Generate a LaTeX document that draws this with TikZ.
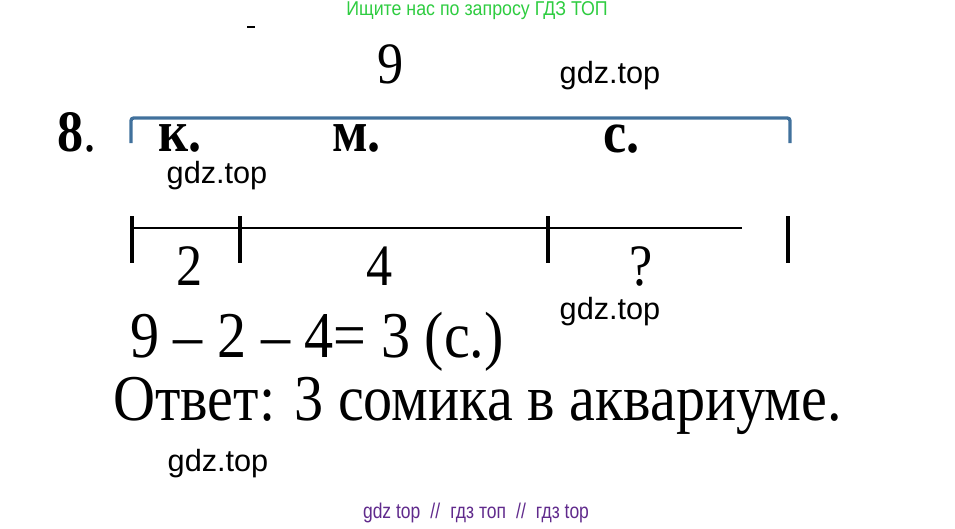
\documentclass[tikz,border=0pt]{standalone}
\usepackage{fontspec}
\setmainfont{Liberation Serif}
\newfontfamily\wmfont{Liberation Sans}
\usetikzlibrary{positioning}
\definecolor{braceblue}{RGB}{65,113,156}
\definecolor{adgreen}{RGB}{46,204,64}
\definecolor{footpurple}{RGB}{96,42,140}
\tikzset{
  numtext/.style = {inner sep=0pt, xscale=0.89, font=\fontsize{44}{52}\selectfont},
  labtext/.style = {numtext, font=\fontsize{44}{52}\selectfont\bfseries},
  anstext/.style = {inner sep=0pt, xscale=0.89, font=\fontsize{49}{58}\selectfont},
  wm/.style      = {inner sep=0pt, font=\wmfont\fontsize{23}{28}\selectfont},
  seg/.style     = {line width=1.5pt},
  segmark/.style = {line width=2.3pt},
  brace/.style   = {line width=2.5pt, draw=braceblue, rounded corners=2pt}
}

\begin{document}
\begin{tikzpicture}[x=0.75pt, y=-0.75pt]
  \useasboundingbox (0,0) rectangle (955,528);

  % banners
  \node[inner sep=0pt, xscale=0.89, text=adgreen, font=\wmfont\fontsize{15}{18}\selectfont]
    (banner) at (477,11) {Ищите нас по запросу ГДЗ ТОП};
  \node[inner sep=0pt, xscale=0.82, text=footpurple, font=\wmfont\fontsize{16}{19}\selectfont]
    (footer) at (476,513)
    {gdz top\hspace{0.3em} //\hspace{0.3em} гдз топ\hspace{0.3em} //\hspace{0.3em} гдз top};

  % stray mark
  \coordinate (markL) at (247,27);
  \coordinate (markR) at (255,27);
  \draw[line width=2pt] (markL) -- (markR);

  % whole
  \node[numtext, anchor=base] (total) at (391,84) {9};
  \node[numtext, anchor=base west] (task) at (57,151) {\textbf{8}.};

  \coordinate (braceL) at (131,143);
  \coordinate (braceR) at (790,143);
  \draw[brace] (braceL) -- ++(0,-25) -| (braceR);

  \node[labtext, anchor=base west] (kar) at (158,151) {к.};
  \node[labtext, anchor=base west] (mol) at (332,151) {м.};
  \node[labtext, anchor=base west] (som) at (603,152) {с.};

  % segment
  \foreach \x/\n in {132/a,240/b,548/c,788/d}{
    \coordinate (\n top) at (\x,216);
    \coordinate (\n bot) at (\x,263);
    \draw[segmark] (\n top) -- (\n bot);
  }
  \coordinate (segstart) at (132,228);
  \coordinate (segend) at (742,228);
  \draw[seg] (segstart) -- (segend);

  \node[numtext, anchor=base] (partk) at (190,285) {2};
  \node[numtext, anchor=base] (partm) at (380,285) {4};
  \node[numtext, anchor=base] (parts) at (641,285) {?};

  % solution
  \node[anstext, anchor=base west] (calc) at (130,357) {9 – 2 – 4= 3 (с.)};
  \node[anstext, anchor=base west] (answer) at (113,420)
    {Ответ: 3 сомика в аквариуме.};

  % watermarks
  \node[wm] (wmA) at (610,76) {gdz.top};
  \node[wm] (wmB) at (217,176) {gdz.top};
  \node[wm] (wmC) at (610,312) {gdz.top};
  \node[wm] (wmD) at (218,464) {gdz.top};
\end{tikzpicture}
\end{document}
